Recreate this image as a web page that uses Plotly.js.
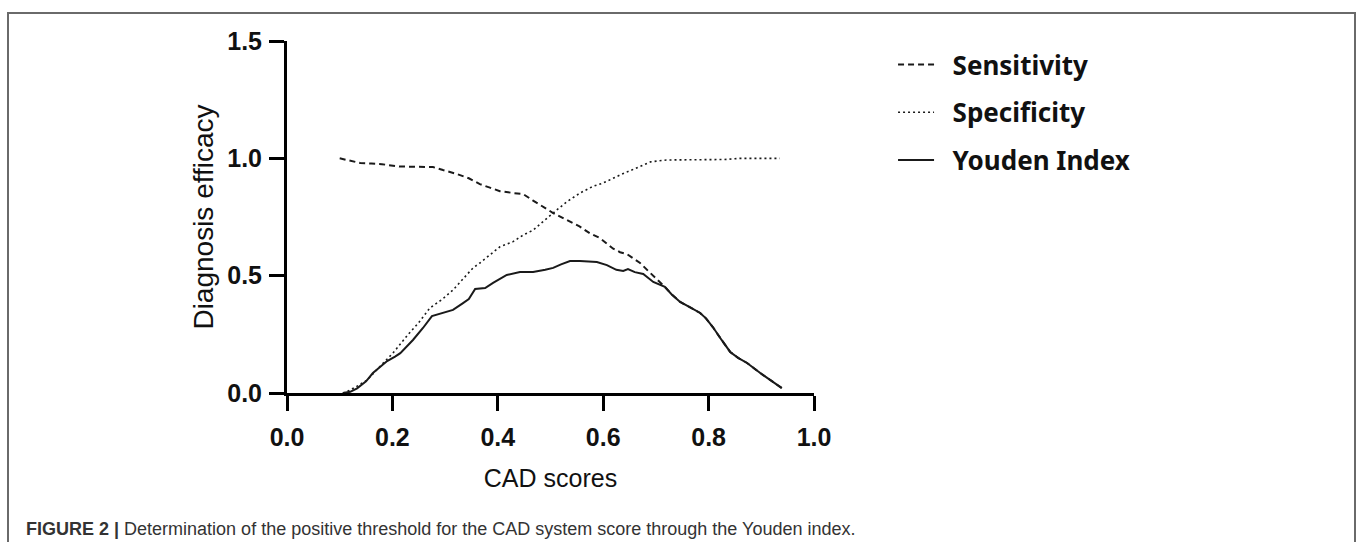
<!DOCTYPE html>
<html>
<head>
<meta charset="utf-8">
<script src="https://cdn.plot.ly/plotly-3.0.1.min.js"></script>
<style>
  html, body { margin: 0; padding: 0; background: #fff; }
  #wrap { position: relative; width: 1357px; height: 542px; overflow: hidden; }
  #chart { position: absolute; left: 0; top: 0; width: 1357px; height: 542px; }
  #frame { position: absolute; left: 7px; top: 12px; width: 1345px; height: 540px;
           border: 2px solid #6a6a6a; border-bottom: none; pointer-events: none; }
</style>
</head>
<body>
<div id="wrap">
  <div id="chart"></div>
  <div id="frame"></div>
</div>
<script>
// ---- Data ----
const sensX = [0.100, 0.120, 0.139, 0.160, 0.180, 0.214, 0.250, 0.277, 0.296, 0.320, 0.345, 0.366, 0.385, 0.404, 0.430, 0.448, 0.467, 0.485, 0.505, 0.531, 0.555, 0.575, 0.594, 0.619, 0.632, 0.645, 0.670, 0.690, 0.711, 0.717, 0.730, 0.746, 0.765, 0.784, 0.795, 0.808, 0.825, 0.841, 0.856, 0.873, 0.898, 0.922, 0.939];
const sensY = [1.000, 0.990, 0.980, 0.978, 0.975, 0.965, 0.965, 0.963, 0.950, 0.935, 0.915, 0.890, 0.875, 0.860, 0.852, 0.848, 0.820, 0.795, 0.767, 0.737, 0.710, 0.680, 0.660, 0.615, 0.600, 0.592, 0.554, 0.510, 0.468, 0.452, 0.420, 0.388, 0.365, 0.341, 0.318, 0.281, 0.225, 0.175, 0.150, 0.128, 0.085, 0.047, 0.021];

const specX = [0.106, 0.113, 0.130, 0.152, 0.175, 0.201, 0.230, 0.250, 0.271, 0.295, 0.315, 0.335, 0.353, 0.366, 0.385, 0.404, 0.429, 0.448, 0.467, 0.485, 0.505, 0.531, 0.556, 0.580, 0.600, 0.633, 0.663, 0.690, 0.720, 0.780, 0.830, 0.860, 0.935];
const specY = [0.000, 0.005, 0.025, 0.055, 0.110, 0.170, 0.250, 0.300, 0.362, 0.400, 0.439, 0.490, 0.533, 0.554, 0.590, 0.623, 0.645, 0.673, 0.694, 0.730, 0.767, 0.815, 0.852, 0.880, 0.895, 0.930, 0.960, 0.985, 0.993, 0.993, 0.995, 1.000, 1.000];

const youdenX = [0.106, 0.120, 0.133, 0.150, 0.163, 0.178, 0.190, 0.205, 0.215, 0.239, 0.258, 0.275, 0.285, 0.296, 0.315, 0.334, 0.345, 0.357, 0.376, 0.391, 0.417, 0.442, 0.467, 0.490, 0.505, 0.520, 0.537, 0.556, 0.575, 0.588, 0.607, 0.625, 0.638, 0.647, 0.660, 0.676, 0.695, 0.717, 0.730, 0.746, 0.765, 0.784, 0.795, 0.808, 0.825, 0.841, 0.856, 0.873, 0.898, 0.922, 0.939];
const youdenY = [0.000, 0.005, 0.020, 0.050, 0.085, 0.115, 0.136, 0.155, 0.170, 0.226, 0.277, 0.328, 0.335, 0.341, 0.354, 0.383, 0.400, 0.443, 0.447, 0.469, 0.503, 0.516, 0.516, 0.525, 0.533, 0.548, 0.562, 0.562, 0.558, 0.558, 0.545, 0.525, 0.520, 0.528, 0.515, 0.507, 0.473, 0.452, 0.420, 0.388, 0.365, 0.341, 0.318, 0.281, 0.225, 0.175, 0.150, 0.128, 0.085, 0.047, 0.021];

const seriesNames = ["Sensitivity", "Specificity", "Youden Index"];
const xTickVals = [0, 0.2, 0.4, 0.6, 0.8, 1.0];
const xTickText = ["0.0", "0.2", "0.4", "0.6", "0.8", "1.0"];
const yTickVals = [0, 0.5, 1.0, 1.5];
const yTickText = ["0.0", "0.5", "1.0", "1.5"];
const xTitle = "CAD scores";
const yTitle = "Diagnosis efficacy";
const captionBold = "FIGURE 2 |";
const captionText = "Determination of the positive threshold for the CAD system score through the Youden index.";

const ink = "#1a1a1a";
const pad = "\u00a0\u00a0";
const traces = [
  { x: sensX, y: sensY, name: pad + seriesNames[0], type: "scatter", mode: "lines", legendgroup: "a",
    line: { color: ink, width: 2, dash: "6px,4px" } },
  { x: specX, y: specY, name: pad + seriesNames[1], type: "scatter", mode: "lines", legendgroup: "b",
    line: { color: ink, width: 1.6, dash: "2px,3px" } },
  { x: youdenX, y: youdenY, name: pad + seriesNames[2], type: "scatter", mode: "lines", legendgroup: "c",
    line: { color: ink, width: 2 } }
];

const tickFont = { family: "Liberation Sans, Arial, sans-serif", size: 25, color: "#111", weight: 700 };
const layout = {
  width: 1357, height: 542,
  margin: { l: 287, r: 543, t: 41, b: 149, pad: 0 },
  paper_bgcolor: "#fff", plot_bgcolor: "#fff",
  showlegend: true,
  legend: {
    x: 1.15, xanchor: "left", y: 1.0, yanchor: "top",
    font: { family: "Noto Sans, sans-serif", size: 26, color: "#111", weight: 700 },
    tracegroupgap: 11, itemwidth: 36, bgcolor: "rgba(0,0,0,0)"
  },
  xaxis: {
    range: [0, 1], tickvals: xTickVals, ticktext: xTickText,
    showgrid: false, zeroline: false, showline: true, linecolor: "#000", linewidth: 3,
    ticks: "outside", ticklen: 15, tickwidth: 3, tickcolor: "#000",
    tickfont: tickFont, ticklabelstandoff: 5,
    title: { text: xTitle, font: { family: "Liberation Sans, Arial, sans-serif", size: 25, color: "#111" }, standoff: 20 }
  },
  yaxis: {
    range: [0, 1.5], tickvals: yTickVals, ticktext: yTickText,
    showgrid: false, zeroline: false, showline: true, linecolor: "#000", linewidth: 3,
    ticks: "outside", ticklen: 15, tickwidth: 3, tickcolor: "#000",
    tickfont: tickFont, ticklabelstandoff: 2,
    title: { text: yTitle, font: { family: "Liberation Sans, Arial, sans-serif", size: 28, color: "#111" }, standoff: 6 }
  },
  annotations: [
    { xref: "paper", yref: "paper", x: -0.499, y: -0.385, xanchor: "left", yanchor: "middle",
      showarrow: false, align: "left",
      text: "<b>" + captionBold + "</b> " + captionText,
      font: { family: "Liberation Sans, Arial, sans-serif", size: 18, color: "#333" } }
  ]
};

Plotly.newPlot("chart", traces, layout, { displayModeBar: false, staticPlot: true });
</script>
</body>
</html>
